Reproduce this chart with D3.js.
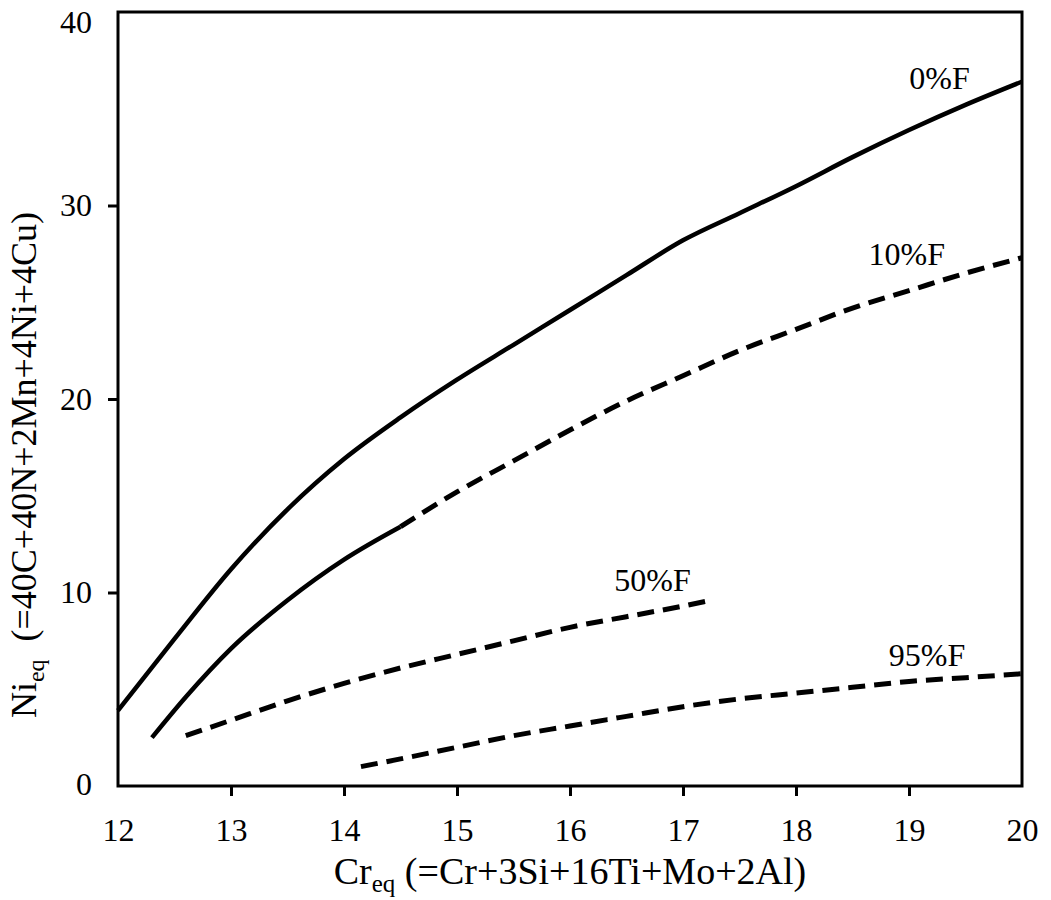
<!DOCTYPE html>
<html>
<head>
<meta charset="utf-8">
<script src="https://cdn.jsdelivr.net/npm/d3@7"></script>
<style>
  html, body { margin: 0; padding: 0; background: #fff; }
  svg { display: block; }
  text { font-family: "Liberation Serif", "Times New Roman", serif; fill: #000; }
</style>
</head>
<body>
<svg id="chart" width="1051" height="900"></svg>
<script>
// ---- data ----
const xTicks = [12, 13, 14, 15, 16, 17, 18, 19, 20];
const yTicks = [0, 10, 20, 30, 40];

// 0%F : solid line
const ferrite0 = [
  [12.0, 3.9], [12.5, 7.6], [13.0, 11.2], [13.5, 14.3], [14.0, 16.9], [14.5, 19.05],
  [15.0, 21.0], [15.5, 22.8], [16.0, 24.6], [16.5, 26.4], [17.0, 28.2],
  [17.5, 29.6], [18.0, 31.0], [18.5, 32.5], [19.0, 33.9], [19.5, 35.2], [20.0, 36.4]
];
// 10%F : solid part, then dashed part
const ferrite10Solid = [
  [12.3, 2.5], [12.6, 4.6], [13.0, 7.1], [13.5, 9.6], [14.0, 11.7], [14.5, 13.4]
];
const ferrite10Dashed = [
  [14.5, 13.4], [15.0, 15.2], [15.5, 16.8], [16.0, 18.4], [16.5, 19.9], [17.0, 21.2],
  [17.5, 22.5], [18.0, 23.6], [18.5, 24.7], [19.0, 25.6], [19.5, 26.5], [20.0, 27.3]
];
// 50%F : dashed
const ferrite50 = [
  [12.6, 2.6], [13.0, 3.4], [13.5, 4.4], [14.0, 5.3], [14.5, 6.1], [15.0, 6.8],
  [15.5, 7.5], [16.0, 8.2], [16.5, 8.75], [17.0, 9.3], [17.25, 9.6]
];
// 95%F : dashed
const ferrite95 = [
  [14.15, 1.0], [14.5, 1.4], [15.0, 2.0], [15.5, 2.6], [16.0, 3.1], [16.5, 3.6],
  [17.0, 4.1], [17.5, 4.5], [18.0, 4.8], [18.5, 5.1], [19.0, 5.4], [19.5, 5.6], [20.0, 5.8]
];
const curveLabels = [
  { text: "0%F",  x: 19.27, y: 36.0 },
  { text: "10%F", x: 18.98, y: 26.9 },
  { text: "50%F", x: 16.73, y: 10.1 },
  { text: "95%F", x: 19.16, y: 6.2 }
];

// ---- layout ----
const margin = { left: 118, top: 12, right: 29, bottom: 114 };
const W = 1051, H = 900;
const iw = W - margin.left - margin.right;
const ih = H - margin.top - margin.bottom;

const svg = d3.select("#chart");
const g = svg.append("g").attr("transform", `translate(${margin.left},${margin.top})`);

const x = d3.scaleLinear().domain([12, 20]).range([0, iw]);
const y = d3.scaleLinear().domain([0, 40]).range([ih, 0]);

// axes
const xAxis = g.append("g").attr("transform", `translate(0,${ih})`)
  .call(d3.axisBottom(x).tickValues(xTicks).tickSize(10).tickPadding(22).tickFormat(d3.format("d")));
const yAxis = g.append("g")
  .call(d3.axisLeft(y).tickValues(yTicks).tickSize(10).tickPadding(16).tickFormat(d3.format("d")));

[xAxis, yAxis].forEach(a => {
  a.select(".domain").remove();
  a.selectAll(".tick line").attr("stroke", "#000").attr("stroke-width", 3);
  a.selectAll(".tick text").style("font-size", "32px").style("font-family", '"Liberation Serif", serif');
});
// no tick marks at the frame corners
xAxis.selectAll(".tick").filter(d => d === 12 || d === 20).select("line").remove();
yAxis.selectAll(".tick").filter(d => d === 0 || d === 40).select("line").remove();
yAxis.selectAll(".tick").filter(d => d === 40).select("text").attr("dy", "0.65em");
yAxis.selectAll(".tick").filter(d => d === 0).select("text").attr("dy", "0.25em");

// frame
g.append("rect").attr("x", 0).attr("y", 0).attr("width", iw).attr("height", ih)
  .attr("fill", "none").attr("stroke", "#000").attr("stroke-width", 3);

// lines
const line = d3.line().x(d => x(d[0])).y(d => y(d[1])).curve(d3.curveMonotoneX);
const solid = (data) => g.append("path").datum(data).attr("d", line)
  .attr("fill", "none").attr("stroke", "#000").attr("stroke-width", 4.5).attr("stroke-linecap", "butt");
const dashed = (data) => g.append("path").datum(data).attr("d", line)
  .attr("fill", "none").attr("stroke", "#000").attr("stroke-width", 5).attr("stroke-dasharray", "17,9");

solid(ferrite0);
solid(ferrite10Solid);
dashed(ferrite10Dashed);
dashed(ferrite50);
dashed(ferrite95);

// curve labels
g.selectAll(".clabel").data(curveLabels).enter().append("text")
  .attr("class", "clabel")
  .attr("x", d => x(d.x)).attr("y", d => y(d.y))
  .attr("text-anchor", "middle")
  .style("font-size", "32px")
  .text(d => d.text);

// x axis title
const xt = svg.append("text")
  .attr("x", 570).attr("y", 884)
  .attr("text-anchor", "middle")
  .style("font-size", "38px");
xt.append("tspan").text("Cr");
xt.append("tspan").attr("dy", 8).style("font-size", "25px").text("eq");
xt.append("tspan").attr("dy", -8).text(" (=Cr+3Si+16Ti+Mo+2Al)");

// y axis title
const yt = svg.append("text")
  .attr("transform", `translate(36,465) rotate(-90)`)
  .attr("text-anchor", "middle")
  .style("font-size", "36px");
yt.append("tspan").text("Ni");
yt.append("tspan").attr("dy", 8).style("font-size", "24px").text("eq");
yt.append("tspan").attr("dy", -8).text("\u00a0 (=40C+40N+2Mn+4Ni+4Cu)");
</script>
</body>
</html>
